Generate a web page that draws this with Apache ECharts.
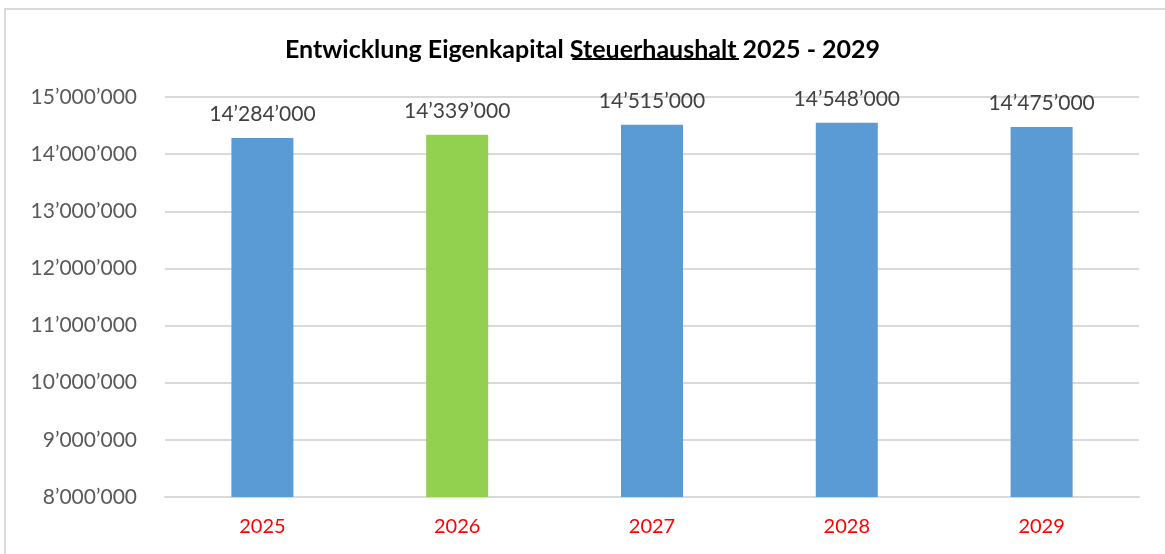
<!DOCTYPE html>
<html>
<head>
<meta charset="utf-8">
<script src="https://cdn.jsdelivr.net/npm/echarts@6/dist/echarts.min.js"></script>
<style>
html,body{margin:0;padding:0;background:#fff;}
#chart-panel{width:1165px;height:554px;}
</style>
</head>
<body>
<div id="chart-panel"></div>
<script>
// Daten
var years = ['2025', '2026', '2027', '2028', '2029'];
var eigenkapital = [14284000, 14339000, 14515000, 14548000, 14475000];
var barColors = ['#5B9BD5', '#92D050', '#5B9BD5', '#5B9BD5', '#5B9BD5'];

var titleParts = ['Entwicklung Eigenkapital ', 'Steuerhaushalt', ' 2025 - 2029'];
var titleFont = 'bold 25px Lato';

function fmt(v) {
    return String(Math.round(v)).replace(/\B(?=(\d{3})+(?!\d))/g, '\u2019');
}

// Unterstreichung unter "Steuerhaushalt" ausmessen
var ctx = document.createElement('canvas').getContext('2d');
ctx.font = titleFont;
var w0 = ctx.measureText(titleParts[0]).width;
var w1 = ctx.measureText(titleParts[1]).width;
var wAll = ctx.measureText(titleParts.join('')).width;
var ulX = 585 - wAll / 2 + w0;

var myChart = echarts.init(document.getElementById('chart-panel'));
var option = {
    backgroundColor: '#fff',
    animation: false,
    title: {
        text: titleParts.join(''),
        left: 'center',
        top: 32,
        textStyle: { fontFamily: 'Lato', fontWeight: 'bold', fontSize: 25, color: '#000' }
    },
    graphic: [
        // Rahmen (nur oben und links sichtbar)
        { type: 'rect', shape: { x: 5, y: 9, width: 1300, height: 700 },
          style: { fill: null, stroke: '#d9d9d9', lineWidth: 2 }, silent: true },
        // Unterstreichung
        { type: 'line', shape: { x1: ulX, y1: 59, x2: ulX + w1, y2: 59 },
          style: { stroke: '#000', lineWidth: 2 }, silent: true }
    ],
    grid: { left: 165, right: 26, top: 97, bottom: 57, containLabel: false },
    xAxis: {
        type: 'category',
        data: years,
        axisLine: { lineStyle: { color: '#d9d9d9', width: 2 } },
        axisTick: { show: false },
        axisLabel: { color: '#FF0000', fontSize: 20, fontFamily: 'Lato', margin: 20 }
    },
    yAxis: {
        type: 'value',
        min: 8000000,
        max: 15000000,
        interval: 1000000,
        axisLine: { show: false },
        axisTick: { show: false },
        splitLine: { lineStyle: { color: '#d9d9d9', width: 2 } },
        axisLabel: {
            color: '#595959', fontSize: 21, fontFamily: 'Lato', margin: 28,
            formatter: function (v) { return fmt(v); }
        }
    },
    series: [{
        type: 'bar',
        barWidth: 62,
        data: eigenkapital.map(function (v, i) {
            return { value: v, itemStyle: { color: barColors[i] } };
        }),
        label: {
            show: true,
            position: 'top',
            distance: 13,
            color: '#404040',
            fontSize: 21,
            fontFamily: 'Lato',
            formatter: function (p) { return fmt(p.value); }
        }
    }]
};
myChart.setOption(option);
</script>
</body>
</html>
